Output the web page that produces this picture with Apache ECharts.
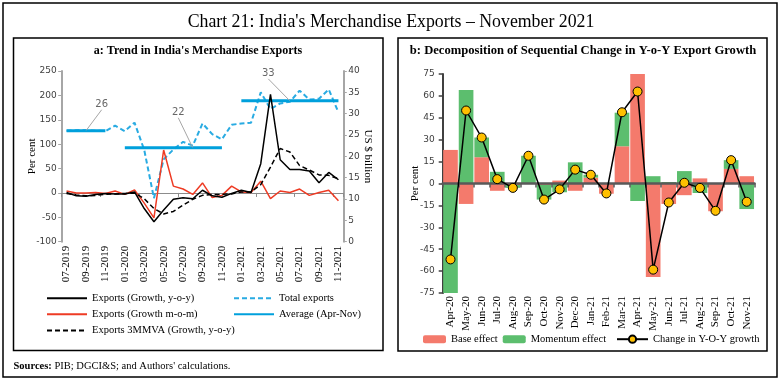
<!DOCTYPE html>
<html><head><meta charset="utf-8">
<script src="https://cdn.jsdelivr.net/npm/echarts@6/dist/echarts.min.js"></script>
<style>html,body{margin:0;padding:0;background:#fff}#c{width:782px;height:382px}</style>
</head><body><div id="c"></div>
<script>
// ---------- Panel a data ----------
const months = ['07-2019','08-2019','09-2019','10-2019','11-2019','12-2019','01-2020','02-2020','03-2020','04-2020','05-2020','06-2020','07-2020','08-2020','09-2020','10-2020','11-2020','12-2020','01-2021','02-2021','03-2021','04-2021','05-2021','06-2021','07-2021','08-2021','09-2021','10-2021','11-2021'];
const expYoy = [1,-6,-7,-3,-1,-2,-2,2,-32,-59,-35,-13,-10,-12,5.5,-6,-9,-1,5.5,0.7,60,202,68,48,48,45,21,42,27];
const expMom = [4,0,0,1,-1,4,-3,6,-21,-51,88,14,8,-3,20.5,-9.5,-5,14,2,1,24,-11.5,4,1,8,-5,1,5.5,-16];
const exp3mma = [-1,-4,-6,-5,-3,-2,-1,0,-12,-32,-43,-38,-25,-13,-5,-3,-3,-2,2,2,17,53,91,84,56,47,37,36,29];
const totalExports = [26.0,26.1,26.1,26.0,25.9,27.2,25.9,27.9,21.5,10.2,19.3,21.6,23.4,22.5,27.7,25.2,24.0,27.4,27.7,27.9,35.0,31.1,32.4,32.8,35.4,33.3,33.5,35.7,30.3];
const avgAprNov = [26,26,26,26,26,null,22,22,22,22,22,22,22,22,22,22,22,null,33,33,33,33,33,33,33,33,33,33,33];
const avgNoteIdx = [2,13,23];
const leftTicksPct = [-100,250,50];
const leftTicksUsd = [0,40,5];

// ---------- Panel b data ----------
const months2 = ['Apr-20','May-20','Jun-20','Jul-20','Aug-20','Sep-20','Oct-20','Nov-20','Dec-20','Jan-21','Feb-21','Mar-21','Apr-21','May-21','Jun-21','Jul-21','Aug-21','Sep-21','Oct-21','Nov-21'];
const baseEffect = [23,-14,18,-5,-1,0,-1,2,-5,4,-7,25.5,75,-64,-14,-8,3.5,-19,10,5];
const momentumEffect = [-75,64,13.5,8,-2,19,-10,-6,14.5,2,0.2,23,-12,5,1,8.5,-6.5,0.3,6,-17.5];
const yoyChange = [-52,50,31.5,3,-3,19,-11,-4,9.5,6,-6.8,48.8,63,-59,-13,0.5,-3,-18.7,16,-12.5];
const rightTicks = [-75,75,15];

// ---------- styling / layout ----------
const SERIF = "'Liberation Serif','DejaVu Serif',serif";
const SANS = "'DejaVu Sans','Liberation Sans',sans-serif";
const noteOffsets = [[15.7,-26],[-14.5,-35],[-21.6,-27]];
const legendText = {fontFamily:SERIF,fontSize:10.5,color:'#000'};
const nameText = {fontFamily:SERIF,fontSize:11,color:'#000'};

const chart = echarts.init(document.getElementById('c'), null, {renderer:'canvas'});
const option = {
  animation:false,
  backgroundColor:'#fff',
  graphic:[
    {type:'rect', shape:{x:3,y:3,width:774,height:374}, style:{fill:'none',stroke:'#000',lineWidth:1.5}, silent:true},
    {type:'rect', shape:{x:13.5,y:38,width:369.5,height:312.5}, style:{fill:'none',stroke:'#000',lineWidth:1.5}, silent:true},
    {type:'rect', shape:{x:398,y:38,width:369,height:313}, style:{fill:'none',stroke:'#000',lineWidth:1.5}, silent:true},
    {type:'text', x:391, y:22, style:{text:"Chart 21: India's Merchandise Exports \u2013 November 2021", align:'center', verticalAlign:'middle', fontFamily:SERIF, fontSize:17.8, fill:'#000'}},
    {type:'text', x:198, y:51, style:{text:"a: Trend in India's Merchandise Exports", align:'center', verticalAlign:'middle', fontFamily:SERIF, fontSize:12, fontWeight:'bold', fill:'#000'}},
    {type:'text', x:583, y:51, style:{text:"b: Decomposition of Sequential Change in Y-o-Y Export Growth", align:'center', verticalAlign:'middle', fontFamily:SERIF, fontSize:12.6, fontWeight:'bold', fill:'#000'}},
    {type:'text', x:13.5, y:366, style:{text:"{b|Sources:} PIB; DGCI&S; and Authors' calculations.", align:'left', verticalAlign:'middle', fontFamily:SERIF, fontSize:10.5, fill:'#000', rich:{b:{fontFamily:SERIF,fontSize:10.5,fontWeight:'bold',fill:'#000'}}}}
  ],
  legend:[
    {data:['Exports (Growth, y-o-y)','Exports (Growth m-o-m)','Exports 3MMVA (Growth, y-o-y)'], orient:'vertical', left:46, top:292.7, itemWidth:40, itemHeight:12, itemGap:5.1, padding:0, itemStyle:{opacity:0}, textStyle:legendText},
    {data:['Total exports','Average (Apr-Nov)'], orient:'vertical', left:233, top:292.7, itemWidth:40, itemHeight:12, itemGap:5.1, padding:0, itemStyle:{opacity:0}, textStyle:legendText},
    {data:['Base effect','Momentum effect'], orient:'horizontal', left:423, top:333.7, itemWidth:23, itemHeight:8, itemGap:5, padding:0, textStyle:legendText},
    {data:['Change in Y-O-Y growth'], orient:'horizontal', left:616, top:333.7, itemWidth:31, itemHeight:9, padding:0, textStyle:legendText}
  ],
  grid:[
    {left:61.7, top:71, width:281.6, height:170.7},
    {left:442.7, top:74, width:311.8, height:219}
  ],
  xAxis:[
    {gridIndex:0, type:'category', data:months, position:'bottom', boundaryGap:true,
     axisLine:{show:false,onZero:false}, axisTick:{show:false},
     axisLabel:{interval:1, rotate:90, margin:4, fontFamily:SERIF, fontSize:11, color:'#000'}},
    {gridIndex:0, type:'category', data:months, position:'bottom', boundaryGap:true,
     axisLine:{show:true,onZero:true,onZeroAxisIndex:0,lineStyle:{color:'#8c8c8c',width:1}},
     axisTick:{show:true,interval:3,length:4,lineStyle:{color:'#8c8c8c',width:1}}, axisLabel:{show:false}},
    {gridIndex:1, type:'category', data:months2, position:'bottom', boundaryGap:true,
     axisLine:{show:false,onZero:false}, axisTick:{show:false},
     axisLabel:{interval:0, rotate:90, margin:3, fontFamily:SERIF, fontSize:11, color:'#000'}},
    {gridIndex:1, type:'category', data:months2, position:'bottom', boundaryGap:true, z:3,
     axisLine:{show:true,onZero:true,lineStyle:{color:'#595959',width:2.5}},
     axisTick:{show:true,interval:0,length:4,lineStyle:{color:'#595959',width:1.5}}, axisLabel:{show:false}}
  ],
  yAxis:[
    {gridIndex:0, type:'value', position:'left', min:leftTicksPct[0], max:leftTicksPct[1], interval:leftTicksPct[2],
     axisLine:{show:true,lineStyle:{color:'#a6a6a6',width:2}}, axisTick:{show:true,length:3.5,lineStyle:{color:'#a6a6a6',width:1}},
     splitLine:{show:false}, axisLabel:{margin:5,fontFamily:SANS,fontSize:9,color:'#404040'},
     name:'Per cent', nameLocation:'middle', nameRotate:90, nameGap:24.5, nameMoveOverlap:false, nameTextStyle:nameText},
    {gridIndex:0, type:'value', position:'right', min:leftTicksUsd[0], max:leftTicksUsd[1], interval:leftTicksUsd[2],
     axisLine:{show:true,onZero:false,lineStyle:{color:'#a6a6a6',width:2}}, axisTick:{show:true,length:3.5,lineStyle:{color:'#a6a6a6',width:1}},
     splitLine:{show:false}, axisLabel:{margin:5,fontFamily:SANS,fontSize:9,color:'#404040'},
     name:'US $ billion', nameLocation:'middle', nameRotate:-90, nameGap:19.5, nameMoveOverlap:false, nameTextStyle:nameText},
    {gridIndex:1, type:'value', position:'left', min:rightTicks[0], max:rightTicks[1], interval:rightTicks[2],
     axisLine:{show:true,onZero:false,lineStyle:{color:'#404040',width:2}}, axisTick:{show:true,length:4,lineStyle:{color:'#404040',width:1.5}},
     splitLine:{show:false}, axisLabel:{margin:8,fontFamily:SANS,fontSize:9,color:'#404040'},
     name:'Per cent', nameLocation:'middle', nameRotate:90, nameGap:22, nameMoveOverlap:false, nameTextStyle:nameText}
  ],
  series:[
    {name:'Total exports', type:'line', xAxisIndex:0, yAxisIndex:1, data:totalExports, symbol:'none',
     lineStyle:{color:'#29abe2',width:2,type:[5,3]}, itemStyle:{color:'#29abe2'}},
    {name:'Average (Apr-Nov)', type:'line', xAxisIndex:0, yAxisIndex:1, data:avgAprNov, symbol:'none', connectNulls:false,
     lineStyle:{color:'#00a0dc',width:3}, itemStyle:{color:'#00a0dc'}},
    {name:'avgNotes', type:'scatter', xAxisIndex:0, yAxisIndex:1, symbolSize:1, z:6,
     data:avgNoteIdx.map(i => [i, avgAprNov[i]]), itemStyle:{color:'rgba(0,0,0,0)'},
     label:{show:true, position:'inside', formatter:p => String(p.value[1]), fontFamily:SANS, fontSize:10, color:'#404040'},
     labelLayout:p => ({dx:noteOffsets[p.dataIndex][0], dy:noteOffsets[p.dataIndex][1]}),
     labelLine:{show:true, lineStyle:{color:'#a6a6a6',width:1}}},
    {name:'Exports (Growth m-o-m)', type:'line', xAxisIndex:0, yAxisIndex:0, data:expMom, symbol:'none',
     lineStyle:{color:'#ee3b24',width:1.5}, itemStyle:{color:'#ee3b24'}},
    {name:'Exports 3MMVA (Growth, y-o-y)', type:'line', xAxisIndex:0, yAxisIndex:0, data:exp3mma, symbol:'none',
     lineStyle:{color:'#000',width:1.5,type:[5,3]}, itemStyle:{color:'#000'}},
    {name:'Exports (Growth, y-o-y)', type:'line', xAxisIndex:0, yAxisIndex:0, data:expYoy, symbol:'none',
     lineStyle:{color:'#000',width:1.5}, itemStyle:{color:'#000'}},

    {name:'Base effect', type:'bar', xAxisIndex:2, yAxisIndex:2, stack:'eff', data:baseEffect, barCategoryGap:'6%',
     itemStyle:{color:'#f47a6c'}},
    {name:'Momentum effect', type:'bar', xAxisIndex:2, yAxisIndex:2, stack:'eff', data:momentumEffect, barCategoryGap:'6%',
     itemStyle:{color:'#5cbe6e'}},
    {name:'Change in Y-O-Y growth', type:'line', xAxisIndex:2, yAxisIndex:2, data:yoyChange, z:5,
     symbol:'circle', symbolSize:9, showAllSymbol:true,
     lineStyle:{color:'#000',width:1.5}, itemStyle:{color:'#ffc000',borderColor:'#000',borderWidth:1}}
  ]
};
chart.setOption(option);
</script></body></html>
